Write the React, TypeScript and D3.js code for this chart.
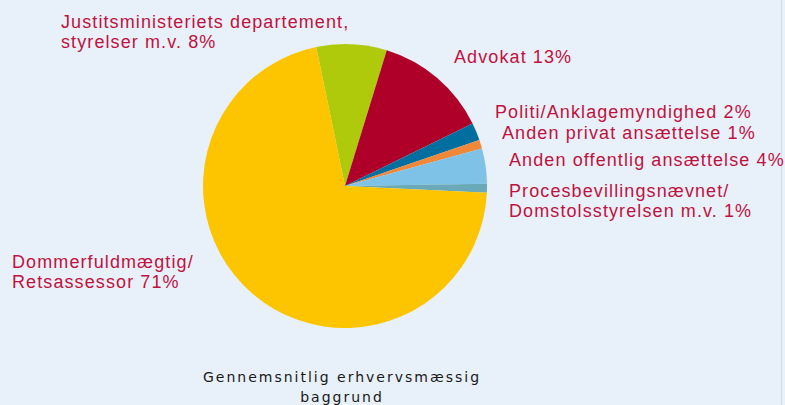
import React from 'react';
import * as d3 from 'd3';

const categories = [
    'Justitsministeriets departement, styrelser m.v.',
    'Advokat',
    'Politi/Anklagemyndighed',
    'Anden privat ansættelse',
    'Anden offentlig ansættelse',
    'Procesbevillingsnævnet/Domstolsstyrelsen m.v.',
    'Dommerfuldmægtig/Retsassessor',
];
const shares = [8, 13, 2, 1, 4, 1, 71];
const sliceColors = ['#afca0b', '#af002a', '#006f9f', '#f0883a', '#7fc2e7', '#6aa9b7', '#fdc400'];

// label lines per slice, same order as categories
const labelLines: string[][] = [
    ['Justitsministeriets departement,', 'styrelser m.v. 8%'],
    ['Advokat 13%'],
    ['Politi/Anklagemyndighed 2%'],
    ['Anden privat ansættelse 1%'],
    ['Anden offentlig ansættelse 4%'],
    ['Procesbevillingsnævnet/', 'Domstolsstyrelsen m.v. 1%'],
    ['Dommerfuldmægtig/', 'Retsassessor 71%'],
];
const labelPos = [
    { x: 61, y: 28 },
    { x: 454, y: 63 },
    { x: 495, y: 118 },
    { x: 502, y: 139 },
    { x: 509, y: 166 },
    { x: 509, y: 197 },
    { x: 12, y: 268 },
];
const titleLines = ['Gennemsnitlig erhvervsmæssig', 'baggrund'];

const W = 785;
const H = 405;
const cx = 345;
const cy = 186;
const radius = 142;

export default function App() {
    // the large slice ends a little left of twelve o'clock
    const startAngle = -11.7 * Math.PI / 180;
    const pie = d3.pie<number>()
        .sort(null)
        .startAngle(startAngle)
        .endAngle(startAngle + 2 * Math.PI);
    const arcs = pie(shares);
    const arc = d3.arc<d3.PieArcDatum<number>>().innerRadius(0).outerRadius(radius);

    return (
        <svg width={W} height={H} style={{ position: 'absolute', left: 0, top: 0 }}>
            <rect width={W} height={H} fill="#e8f0f9" />
            <line x1={781.5} x2={781.5} y1={0} y2={H} stroke="#d3dde8" />
            <g transform={`translate(${cx},${cy})`}>
                {arcs.map((a, i) => (
                    <path key={categories[i]} d={arc(a) || ''} fill={sliceColors[i]} />
                ))}
            </g>
            <g fontFamily="'Liberation Sans', Arial, sans-serif" fontSize={18} fill="#c0123e" letterSpacing={1.1}>
                {labelLines.map((lines, i) => (
                    <text key={i} x={labelPos[i].x} y={labelPos[i].y}>
                        {lines.map((l, j) => (
                            <tspan key={j} x={labelPos[i].x} dy={j === 0 ? 0 : 20}>{l}</tspan>
                        ))}
                    </text>
                ))}
            </g>
            <text x={342} y={382} textAnchor="middle" fontFamily="'DejaVu Sans', sans-serif"
                fontSize={14} fill="#1a1a1a" letterSpacing={2}>
                {titleLines.map((l, j) => (
                    <tspan key={j} x={342} dy={j === 0 ? 0 : 20}>{l}</tspan>
                ))}
            </text>
        </svg>
    );
}
